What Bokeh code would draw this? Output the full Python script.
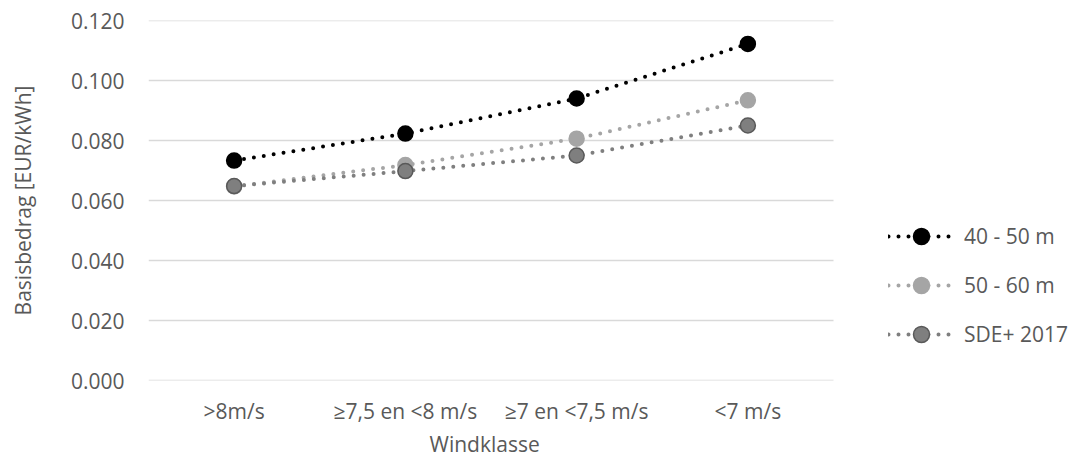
from bokeh.plotting import figure
from bokeh.models import (Range1d, Legend, LegendItem, NumeralTickFormatter,
                          FixedTicker, ColumnDataSource, Title)
from bokeh.embed import file_html
from bokeh.resources import INLINE

categories = [">8m/s", "≥7,5 en <8 m/s", "≥7 en <7,5 m/s", "<7 m/s"]
s_40_50 = [0.0733, 0.0823, 0.0940, 0.1122]
s_50_60 = [0.0647, 0.0718, 0.0806, 0.0934]
s_sde = [0.0648, 0.0698, 0.0750, 0.0850]
series_names = ["40 - 50 m", "50 - 60 m", "SDE+ 2017"]
y_ticks = [0.0, 0.02, 0.04, 0.06, 0.08, 0.10, 0.12]
x_title = "Windklasse"
y_title = "Basisbedrag [EUR/kWh]"

FONT = "Open Sans"
TXT = "#595959"
FS = "21px"

W, H = 1069, 460
LEFT, RIGHT_PLOT, TOP, BOTTOM = 148, 833, 20, 380   # plot-area pixel edges
n = len(categories)
x_pos = [i + 0.5 for i in range(n)]
x_end = n * (W - LEFT) / (RIGHT_PLOT - LEFT)   # room on the right for the legend

p = figure(width=W, height=H,
           x_range=Range1d(0, x_end),
           y_range=Range1d(0, 0.12),
           output_backend="svg", toolbar_location=None,
           min_border_left=LEFT, min_border_right=0,
           min_border_top=TOP, min_border_bottom=H - BOTTOM)

p.outline_line_color = None
p.background_fill_color = "white"
p.border_fill_color = "white"

p.xgrid.grid_line_color = None
p.ygrid.grid_line_color = None

# horizontal grid lines limited to the plot area
p.segment(x0=[0] * len(y_ticks), x1=[n] * len(y_ticks), y0=y_ticks, y1=y_ticks,
          line_color="#D9D9D9", line_width=1.5)

p.yaxis.ticker = FixedTicker(ticks=y_ticks)
p.yaxis.formatter = NumeralTickFormatter(format="0.000")
p.xaxis.ticker = FixedTicker(ticks=x_pos)
p.xaxis.major_label_overrides = {x: c for x, c in zip(x_pos, categories)}

for ax in (p.xaxis[0], p.yaxis[0]):
    ax.axis_line_color = None
    ax.major_tick_line_color = None
    ax.minor_tick_line_color = None
    ax.major_label_text_font = FONT
    ax.major_label_text_font_size = FS
    ax.major_label_text_color = TXT
    ax.axis_label_text_font = FONT
    ax.axis_label_text_font_size = FS
    ax.axis_label_text_color = TXT
    ax.axis_label_text_font_style = "normal"

p.xaxis.major_label_standoff = 10
p.yaxis.major_label_standoff = 18
p.yaxis.axis_label = y_title
p.yaxis.axis_label_standoff = 31

# x-axis title as a panel title, centred under the plot area (not the legend)
xt = Title(text=x_title, align="left", standoff=0, offset=281,
           text_font=FONT, text_font_size=FS, text_color=TXT,
           text_font_style="normal")
p.add_layout(xt, "below")

styles = [
    dict(line="#000000", fill="#000000", outline="#000000"),
    dict(line="#A5A5A5", fill="#A5A5A5", outline="#A5A5A5"),
    dict(line="#7F7F7F", fill="#7F7F7F", outline="#595959"),
]

items = []
for name, vals, st in zip(series_names, [s_40_50, s_50_60, s_sde], styles):
    src = ColumnDataSource(dict(x=x_pos, y=vals))
    lr = p.line("x", "y", source=src, line_color=st["line"], line_width=4,
                line_dash="0 10", line_cap="round")
    sr = p.scatter("x", "y", source=src, size=15, marker="circle",
                   fill_color=st["fill"], line_color=st["outline"], line_width=1.5)
    items.append(LegendItem(label=name, renderers=[lr, sr]))

legend = Legend(items=items, location=(740, 26), orientation="vertical",
                border_line_color=None, background_fill_alpha=0,
                padding=0, margin=0, spacing=9,
                glyph_width=66, glyph_height=40, label_standoff=10,
                label_text_font=FONT, label_text_font_size=FS,
                label_text_color=TXT)
p.add_layout(legend, "center")

open("out.html", "w").write(file_html(p, INLINE))
